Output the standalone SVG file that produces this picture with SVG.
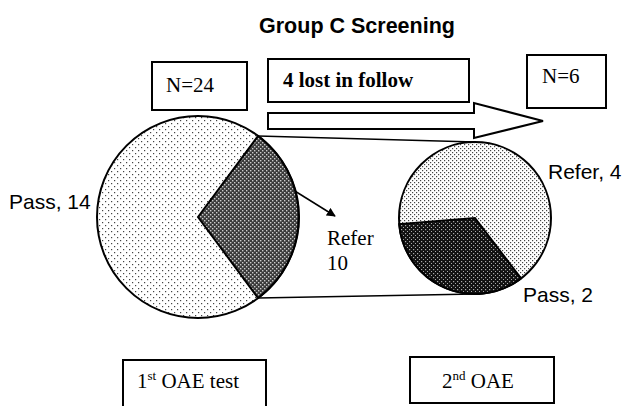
<svg xmlns="http://www.w3.org/2000/svg" width="628" height="406" viewBox="0 0 628 406">
<style>
.box{fill:#fff;stroke:#000;stroke-width:2}
.edge{fill:none;stroke:#000;stroke-width:1.5}
.ser{font-family:"Liberation Serif","Times New Roman",serif;font-size:21px;fill:#000}
.sans{font-family:"Liberation Sans",Arial,sans-serif;font-size:21px;fill:#000}
.pie{stroke:#000;stroke-width:2}
</style>
<defs>
<pattern id="sparse" width="6" height="6" patternUnits="userSpaceOnUse">
<rect width="6" height="6" fill="#fff"/>
<rect x="0" y="0" width="1.2" height="1.2" fill="#444"/>
<rect x="3" y="3" width="1.2" height="1.2" fill="#444"/>
</pattern>
<pattern id="dense" width="4" height="4" patternUnits="userSpaceOnUse">
<rect width="4" height="4" fill="#fff"/>
<rect x="0" y="0" width="1.2" height="1.2" fill="#444"/>
<rect x="2" y="2" width="1.2" height="1.2" fill="#444"/>
</pattern>
<pattern id="cross" width="4" height="4" patternUnits="userSpaceOnUse">
<rect width="4" height="4" fill="#3a3a3a"/>
<rect x="0" y="0" width="1.4" height="1.4" fill="#ccc"/>
<rect x="2" y="2" width="1.4" height="1.4" fill="#ccc"/>
</pattern>
<pattern id="dark" width="4" height="4" patternUnits="userSpaceOnUse">
<rect width="4" height="4" fill="#111"/>
<rect x="1" y="1" width="1.2" height="1.2" fill="#aaa"/>
<rect x="3" y="3" width="1.2" height="1.2" fill="#aaa"/>
</pattern>
<marker id="ah" viewBox="0 0 10 10" refX="9" refY="5" markerWidth="6" markerHeight="6" orient="auto" markerUnits="strokeWidth">
<path d="M0,0 L10,5 L0,10 Z" fill="#000"/>
</marker>
</defs>
<rect width="628" height="406" fill="#fff"/>

<text x="357" y="33" text-anchor="middle" style="font-family:'Liberation Sans',Arial,sans-serif;font-size:21.5px;font-weight:bold">Group C Screening</text>

<g id="connectors">
<line class="edge" x1="258" y1="136" x2="475" y2="142"/>
<line class="edge" x1="258" y1="298" x2="475" y2="294"/>
<polygon class="box" points="268,113 474,113 474,103 543,121 474,138 474,129 268,129"/>
<line x1="290" y1="188" x2="335" y2="216" stroke="#000" stroke-width="1.5" marker-end="url(#ah)"/>
</g>

<g id="n24">
<rect class="box" x="152" y="62" width="95" height="48"/>
<text class="ser" x="166" y="92">N=24</text>
</g>

<g id="lost">
<rect class="box" x="268" y="59" width="201" height="43"/>
<text class="ser" x="283" y="87" font-weight="bold">4 lost in follow</text>
</g>

<g id="n6">
<rect class="box" x="527" y="55" width="79" height="53"/>
<text class="ser" x="542" y="83">N=6</text>
</g>

<g id="pie1">
<circle class="pie" cx="198" cy="217" r="101" fill="url(#sparse)"/>
<path class="pie" d="M198,217 L258,136 A101,101 0 0,1 258,298 Z" fill="url(#cross)"/>
</g>

<g id="pie2">
<circle class="pie" cx="475" cy="218" r="76" fill="url(#dense)"/>
<path class="pie" d="M475,218 L521,278.4 A76,76 0 0,1 399.2,224.1 Z" fill="url(#dark)"/>
</g>

<g id="labels">
<text class="sans" x="9" y="209">Pass, 14</text>
<text class="ser" x="327" y="245">Refer</text>
<text class="ser" x="327" y="270">10</text>
<text class="sans" x="548" y="179">Refer, 4</text>
<text class="sans" x="523" y="302">Pass, 2</text>
</g>

<g id="oae1">
<rect class="box" x="123" y="360" width="143" height="60"/>
<text class="ser" x="137" y="388">1<tspan font-size="13" dy="-8">st</tspan><tspan dy="8"> OAE test</tspan></text>
</g>

<g id="oae2">
<rect class="box" x="410" y="357" width="144" height="46"/>
<text class="ser" x="442" y="388">2<tspan font-size="13" dy="-8">nd</tspan><tspan dy="8"> OAE</tspan></text>
</g>
</svg>
